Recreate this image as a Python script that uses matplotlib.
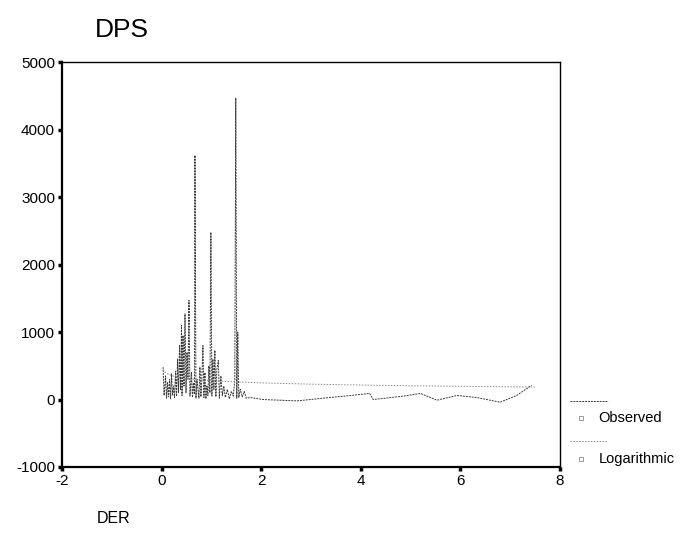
#!/usr/bin/env python3

"""
SPSS style curve fit plot: DPS against DER, observed values and logarithmic fit.
"""

import matplotlib
matplotlib.use("Agg")
import matplotlib.pyplot as plt
from matplotlib.lines import Line2D

plt.rcParams['font.family'] = ['Liberation Sans', 'DejaVu Sans']

# observed values, sorted by DER
der_obs = [0.03, 0.05, 0.08, 0.10, 0.12, 0.14, 0.16, 0.18, 0.20, 0.22, 0.24, 0.26,
           0.28, 0.30, 0.32, 0.34, 0.36, 0.38, 0.40, 0.41, 0.43, 0.45, 0.47, 0.49,
           0.51, 0.53, 0.55, 0.57, 0.60, 0.62, 0.64, 0.66, 0.67, 0.69, 0.71, 0.73,
           0.75, 0.77, 0.79, 0.81, 0.83, 0.85, 0.87, 0.89, 0.91, 0.93, 0.95, 0.97,
           0.99, 1.01, 1.03, 1.05, 1.07, 1.09, 1.11, 1.14, 1.16, 1.19, 1.22, 1.25,
           1.28, 1.32, 1.36, 1.40, 1.44, 1.47, 1.49, 1.51, 1.53, 1.55, 1.58, 1.62,
           1.66, 1.70, 1.78, 2.04, 2.72, 3.38, 3.80, 4.18, 4.25, 4.85, 5.20, 5.53,
           5.93, 6.33, 6.80, 7.13, 7.43]
dps_obs = [480, 60, 350, 20, 250, 40, 300, 10, 380, 60, 200, 30,
           420, 50, 600, 100, 800, 150, 1100, 60, 950, 200, 1270, 100,
           700, 300, 1470, 50, 400, 30, 250, 80, 3620, 20, 300, 150,
           20, 480, 40, 350, 800, 30, 400, 10, 200, 60, 500, 100,
           2480, 50, 600, 150, 730, 40, 450, 580, 20, 350, 60, 200,
           30, 150, 10, 120, 50, 300, 4470, 20, 1000, 30, 150, 40,
           120, 20, 30, 0, -20, 30, 60, 90, 0, 50, 90, -10,
           60, 30, -40, 60, 210]

# logarithmic fit
der_fit = [0.03, 0.06, 0.1, 0.2, 0.35, 0.5, 0.75, 1.0, 1.5, 2.0, 3.0, 4.0, 5.0, 6.0, 7.0, 7.5]
dps_fit = [445, 412, 388, 356, 330, 313, 294, 280, 261, 247, 228, 215, 204, 196, 189, 185]

x_ticks = [-2, 0, 2, 4, 6, 8]
y_ticks = [-1000, 0, 1000, 2000, 3000, 4000, 5000]

fig = plt.figure(figsize=(6.83, 5.46), dpi=100)
ax = fig.add_axes([0.0908, 0.1447, 0.729, 0.7413])

ax.plot(der_obs, dps_obs, color='#3a3a3a', lw=0.7, ls=(0, (2, 1)))
ax.plot(der_fit, dps_fit, color='#8a8a8a', lw=0.7, ls=(0, (1.5, 1.5)))

ax.set_xlim(-2, 8)
ax.set_ylim(-1000, 5000)
ax.set_xticks(x_ticks, [str(t) for t in x_ticks])
ax.set_yticks(y_ticks, [str(t) for t in y_ticks])
ax.tick_params(direction='out', length=3, width=2.5, labelsize=11, pad=2, color='black')

for side in ['left', 'bottom']:
    ax.spines[side].set_linewidth(1.6)
for side in ['top', 'right']:
    ax.spines[side].set_linewidth(1.0)

fig.text(0.139, 0.945, 'DPS', fontsize=19, ha='left', va='center')
fig.text(0.142, 0.051, 'DER', fontsize=11.5, ha='left', va='center')

# legend drawn by hand, SPSS layout: line sample above marker + label
for (ys, ym, label, col, ls) in [(0.2656, 0.234, 'Observed', '#3a3a3a', (0, (2, 1))),
                                 (0.192, 0.159, 'Logarithmic', '#8a8a8a', (0, (1.5, 1.5)))]:
    fig.add_artist(Line2D([0.835, 0.89], [ys, ys], transform=fig.transFigure,
                          color=col, lw=0.7, ls=ls))
    fig.add_artist(Line2D([0.851], [ym], transform=fig.transFigure, marker='s',
                          markersize=3.5, markerfacecolor='white',
                          markeredgecolor='#888888', markeredgewidth=0.6, ls='none'))
    fig.text(0.876, ym, label, fontsize=10.5, ha='left', va='center')

fig.savefig('out.png', dpi=100)
plt.close(fig)
